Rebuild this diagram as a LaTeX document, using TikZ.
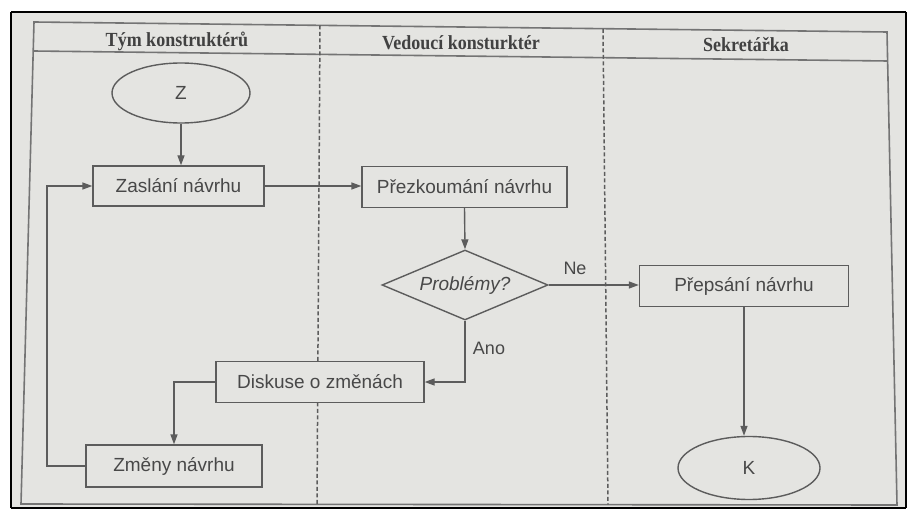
\documentclass[tikz,border=0pt]{standalone}
\usepackage{fontspec}
\setmainfont{Liberation Sans}
\newfontfamily\hdfont[FakeStretch=0.9]{Liberation Serif}
\usetikzlibrary{shapes.geometric,arrows.meta}
\definecolor{paper}{HTML}{E4E4E1}
\definecolor{ink}{HTML}{5C5C5C}
\definecolor{txt}{HTML}{484848}
\begin{document}
\begin{tikzpicture}[x=1pt,y=-1pt,
  frameline/.style={draw=ink!85, line width=1.6pt},
  lanediv/.style={draw=ink, line width=1.5pt, dash pattern=on 4pt off 2.5pt},
  hdr/.style={font=\hdfont\bfseries\fontsize{20}{22}\selectfont, text=txt!90!black},
  stepbox/.style={draw=ink, fill=paper, line width=1.4pt, rectangle, inner sep=0pt,
    font=\fontsize{19}{22}\selectfont, text=txt},
  term/.style={draw=ink, fill=paper, line width=1.4pt, ellipse, inner sep=0pt,
    font=\fontsize{19}{22}\selectfont, text=txt},
  decision/.style={draw=ink, fill=paper, line width=1.4pt, diamond, aspect=2.4, inner sep=0pt,
    font=\itshape\fontsize{19}{22}\selectfont, text=txt},
  lbl/.style={font=\fontsize{18}{20}\selectfont, text=txt},
  arr/.style={draw=ink, line width=1.4pt, -{Triangle[length=10pt,width=7pt]}}
]
\useasboundingbox (0,0) rectangle (907,510);
\fill[white] (0,0) rectangle (907,510);
\fill[paper] (11,12) rectangle (906,508);
\draw[black, line width=2pt] (11,12) -- (906,12);
\draw[black, line width=2pt] (11,12) -- (11,508);
\draw[black, line width=2pt] (906,12) -- (906,508);
\draw[black, line width=1.6pt] (11,508) -- (906,508);

% table frame (slightly keystoned, as in the photo)
\coordinate (tl) at (34,22);
\coordinate (tr) at (887,32);
\coordinate (br) at (897,505);
\coordinate (bl) at (21,504);
\draw[frameline] (tl) -- (tr) -- (br) -- (bl) -- cycle;
\coordinate (hl) at (33.2,51);
\coordinate (hr) at (887.6,61);
\draw[frameline] (hl) -- (hr);
\coordinate (d1t) at (320,25.5);
\coordinate (d1b) at (317,504);
\coordinate (d2t) at (603,28.8);
\coordinate (d2b) at (608,504.5);
\draw[lanediv] (d1t) -- (d1b);
\draw[lanediv] (d2t) -- (d2b);

% headers
\node[hdr] (h1) at (177,41) {Tým konstruktérů};
\node[hdr] (h2) at (461,43) {Vedoucí konsturktér};
\node[hdr] (h3) at (746,45) {Sekretářka};

% connectors (drawn first, boxes are opaque)
\coordinate (zc) at (181,93);
\coordinate (kc) at (749,468);

% nodes
\node[term, minimum width=138pt, minimum height=60pt] (Z) at (zc) {Z};
\node[stepbox, minimum width=171pt, minimum height=40pt] (zas) at (178.5,186) {Zaslání návrhu};
\node[stepbox, minimum width=205pt, minimum height=41pt] (pre) at (464.5,187) {Přezkoumání návrhu};
\node[decision, minimum width=166pt, minimum height=70pt] (prob) at (465,285) {Problémy?};
\node[stepbox, minimum width=209pt, minimum height=41pt] (prep) at (744,286) {Přepsání návrhu};
\node[stepbox, minimum width=208pt, minimum height=41pt] (disk) at (320,382) {Diskuse o změnách};
\node[stepbox, minimum width=176pt, minimum height=42pt] (zmeny) at (174,466) {Změny návrhu};
\node[term, minimum width=142pt, minimum height=63pt] (K) at (kc) {K};

\node[lbl] (ne) at (575,268) {Ne};
\node[lbl] (ano) at (489,348) {Ano};

\coordinate (fb) at (47,466);
\draw[arr] (Z.south) -- (Z.south |- zas.north);
\draw[arr] (zas.east) -- (pre.west |- zas.east);
\draw[arr] (pre.south) -- (prob.north);
\draw[arr] (prob.east) -- (prep.west |- prob.east);
\draw[arr] (prob.south) |- (disk.east);
\draw[arr] (disk.west) -| (zmeny.north);
\draw[arr] (zmeny.west) -- (fb) |- (zas.west);
\draw[arr] (prep.south) -- (prep.south |- K.north);
\end{tikzpicture}
\end{document}
